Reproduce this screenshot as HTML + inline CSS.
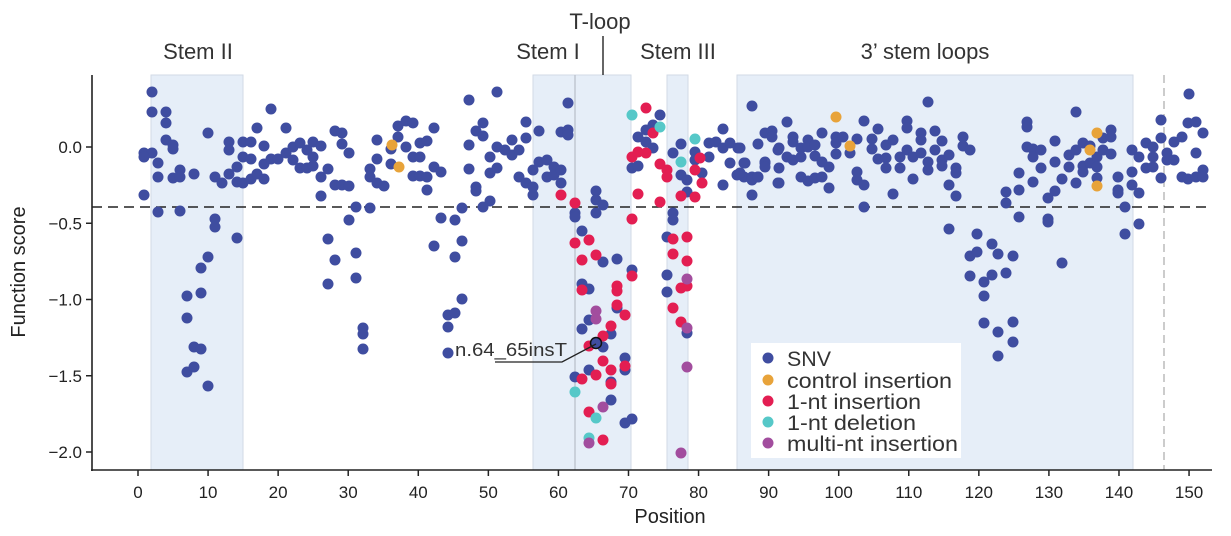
<!DOCTYPE html>
<html><head><meta charset="utf-8"><style>
html,body{margin:0;padding:0;background:#fff;}
svg{display:block;font-family:"Liberation Sans",Helvetica,Arial,sans-serif;}
</style></head><body>
<svg id="s" width="1231" height="536" viewBox="0 0 1231 536" xmlns="http://www.w3.org/2000/svg">
<g fill="#e6eef8" stroke="#d2dae6" stroke-width="1">
<rect x="151" y="75" width="92" height="395"/>
<rect x="533" y="75" width="42" height="395"/>
<rect x="575" y="75" width="56" height="395"/>
<rect x="667" y="75" width="21" height="395"/>
<rect x="737" y="75" width="396" height="395"/>
</g>
<line x1="575" y1="75" x2="575" y2="470" stroke="#b8bec8" stroke-width="1.2"/>
<line x1="1164" y1="75" x2="1164" y2="470" stroke="#bbb" stroke-width="1.5" stroke-dasharray="8,5"/>
<line x1="92" y1="207" x2="1212" y2="207" stroke="#222" stroke-width="1.6" stroke-dasharray="10,6"/>
<g id="pts"></g>
<g fill="#333" font-size="22">
<text x="198" y="59" text-anchor="middle">Stem II</text>
<text x="548" y="59" text-anchor="middle">Stem I</text>
<text x="600" y="29" text-anchor="middle">T-loop</text>
<text x="678" y="59" text-anchor="middle">Stem III</text>
<text x="925" y="59" text-anchor="middle">3’ stem loops</text>
</g>
<line x1="603" y1="36" x2="603" y2="75" stroke="#333" stroke-width="1.5"/>
<polyline points="495,362 562,362 596,344" fill="none" stroke="#222" stroke-width="1.3"/>
<text x="455" y="356" font-size="18.5" fill="#333" textLength="112" lengthAdjust="spacingAndGlyphs">n.64_65insT</text>
<rect x="751" y="343" width="210" height="115" fill="#fff"/>
<g font-size="21.5" fill="#333">
<circle cx="768" cy="358" r="5.5" fill="#3f4da0"/><text x="787" y="366" textLength="44" lengthAdjust="spacingAndGlyphs">SNV</text>
<circle cx="768" cy="380" r="5.5" fill="#e8a33a"/><text x="787" y="388" textLength="165" lengthAdjust="spacingAndGlyphs">control insertion</text>
<circle cx="768" cy="401" r="5.5" fill="#e31e52"/><text x="787" y="409" textLength="134" lengthAdjust="spacingAndGlyphs">1-nt insertion</text>
<circle cx="768" cy="422" r="5.5" fill="#56c8c8"/><text x="787" y="430" textLength="129" lengthAdjust="spacingAndGlyphs">1-nt deletion</text>
<circle cx="768" cy="443" r="5.5" fill="#a24d9e"/><text x="787" y="451" textLength="171" lengthAdjust="spacingAndGlyphs">multi-nt insertion</text>
</g>
<g stroke="#222" stroke-width="1.6" fill="none">
<line x1="92" y1="75" x2="92" y2="471"/>
<line x1="91" y1="470" x2="1212" y2="470"/>
</g>
<g id="ticks" stroke="#222" stroke-width="1.5"></g>
<g id="lbl" font-size="17" fill="#222"></g>
<text x="670" y="523" text-anchor="middle" font-size="20" fill="#222">Position</text>
<text transform="translate(25,272) rotate(-90)" text-anchor="middle" font-size="20" fill="#222">Function score</text>
</svg>
<script>
var NS="http://www.w3.org/2000/svg";
function el(p,t,a,txt){var e=document.createElementNS(NS,t);for(var k in a)e.setAttribute(k,a[k]);if(txt!=null)e.textContent=txt;p.appendChild(e);return e;}
var tk=document.getElementById("ticks"),lb=document.getElementById("lbl");
for(var i=0;i<=15;i++){var x=138+70.07*i;el(tk,"line",{x1:x,y1:470,x2:x,y2:476});el(lb,"text",{x:x,y:498,"text-anchor":"middle"},String(i*10));}
var ys=[["0.0",0],["\u22120.5",-0.5],["\u22121.0",-1],["\u22121.5",-1.5],["\u22122.0",-2]];
ys.forEach(function(v){var y=147-152.5*v[1];el(tk,"line",{x1:86,y1:y,x2:92,y2:y});el(lb,"text",{x:82,y:y+6,"text-anchor":"end"},v[0]);});
var B="152,92 152,112 166,112 166,123 166,140 173,145 173,149 144,153 152,153 144,157 158,163 158,177 144,195 158,212 173,178 180,170 180,177 194,174 180,211 208,133 215,177 222,183 229,142 229,150 229,174 237,167 237,182 215,219 215,227 237,238 208,257 201,268 201,293 187,296 187,318 194,347 201,349 187,372 194,367 208,386 243,142 251,142 243,157 251,159 243,183 251,179 257,128 264,146 257,174 264,179 264,164 271,109 271,159 278,159 286,128 286,153 293,147 293,160 300,143 300,168 307,150 307,168 313,142 313,157 313,166 321,146 321,177 321,196 328,169 335,131 342,133 342,144 349,153 335,185 342,185 349,186 356,207 349,220 328,239 335,260 356,253 356,278 328,284 363,328 363,334 363,349 370,169 370,177 370,208 377,140 377,159 377,183 384,186 391,149 391,164 398,126 398,137 406,121 413,123 406,147 413,157 420,157 413,176 420,176 427,177 427,190 420,143 427,141 434,128 434,167 441,172 441,218 434,246 455,220 462,208 462,241 455,257 462,299 448,315 455,313 448,327 448,353 469,100 469,145 469,169 476,187 476,191 476,131 483,123 483,136 490,157 490,173 490,201 483,207 497,92 497,147 497,168 505,150 512,140 512,155 519,150 519,177 526,122 526,138 526,183 533,170 533,195 533,187 539,131 539,162 547,160 547,177 554,167 554,175 561,170 561,183 561,132 568,103 568,130 568,135 575,213 575,217 582,231 596,191 596,200 596,213 603,205 603,262 617,259 632,270 582,284 589,289 589,320 582,329 611,334 603,347 617,308 625,358 625,370 589,370 575,377 611,382 611,400 625,423 632,419 660,115 653,125 646,130 638,137 646,142 653,148 632,168 638,166 673,153 681,144 681,175 687,180 687,192 695,152 695,160 702,173 709,157 709,143 716,142 723,129 723,148 730,143 730,163 738,148 723,185 737,175 744,163 744,177 752,177 752,195 752,106 758,144 765,133 772,131 772,137 765,163 758,177 778,150 778,183 673,213 673,220 667,237 667,275 667,292 687,333 740,148 745,163 740,173 752,180 758,177 765,162 765,167 779,148 779,168 779,183 787,122 787,157 793,137 793,142 793,160 801,148 801,157 801,177 808,140 808,147 808,181 815,145 815,156 815,178 822,133 822,162 822,177 829,167 829,188 836,137 836,143 836,154 843,137 850,153 857,139 857,172 857,180 864,121 864,185 864,207 872,139 872,149 878,129 878,159 886,145 886,168 886,158 893,140 893,194 900,168 900,157 907,121 907,128 907,150 913,157 913,179 921,133 921,140 921,153 928,102 928,162 928,170 935,131 935,150 942,141 942,160 942,166 949,155 949,185 956,168 956,173 956,196 963,137 963,146 970,150 949,229 977,234 970,256 977,252 992,244 998,254 1013,256 970,276 984,282 992,275 1006,273 984,296 984,323 998,332 1013,322 1013,342 998,356 1006,192 1006,203 1019,173 1019,190 1019,217 1027,122 1027,127 1027,147 1033,149 1033,157 1033,182 1041,150 1041,168 1048,198 1048,219 1048,222 1055,141 1055,162 1055,191 1062,179 1062,263 1069,155 1069,167 1076,112 1076,150 1076,183 1083,143 1083,166 1083,172 1090,146 1090,163 1097,157 1097,167 1097,178 1103,138 1103,150 1111,130 1111,137 1111,154 1118,177 1118,190 1118,193 1125,207 1125,234 1132,150 1132,172 1132,185 1139,157 1139,193 1139,224 1146,143 1146,168 1153,147 1153,157 1153,167 1161,120 1161,138 1161,178 1167,153 1167,160 1174,142 1174,160 1182,137 1182,177 1188,123 1189,94 1188,179 1196,122 1196,153 1196,177 1203,133 1203,170 1203,177";
var O="392,145 399,167 836,117 850,146 1097,133 1090,150 1097,186";
var R="561,195 575,203 575,243 589,240 582,260 596,255 632,276 582,290 617,286 617,291 617,305 625,315 611,326 603,336 589,346 603,361 611,370 625,366 596,375 582,379 611,384 589,412 603,440 646,108 632,157 638,152 646,153 653,133 660,164 667,170 667,177 638,194 660,202 681,196 695,197 695,170 700,158 702,183 632,219 673,239 687,237 673,254 687,261 681,288 687,286 673,308 681,322";
var T="575,392 596,418 589,438 632,115 660,127 681,162 695,139";
var P="596,311 596,319 603,407 589,443 687,279 687,328 687,367 681,453";
var g=document.getElementById("pts");
function draw(s,c){s.split(" ").forEach(function(p){var q=p.split(",");el(g,"circle",{cx:q[0],cy:q[1],r:5.5,fill:c});});}
draw(B,"#3f4da0");draw(O,"#e8a33a");draw(R,"#e31e52");draw(T,"#56c8c8");draw(P,"#a24d9e");
el(g,"circle",{cx:596,cy:343,r:5.5,fill:"#3f4da0",stroke:"#111","stroke-width":1.5});
</script>
</body></html>
